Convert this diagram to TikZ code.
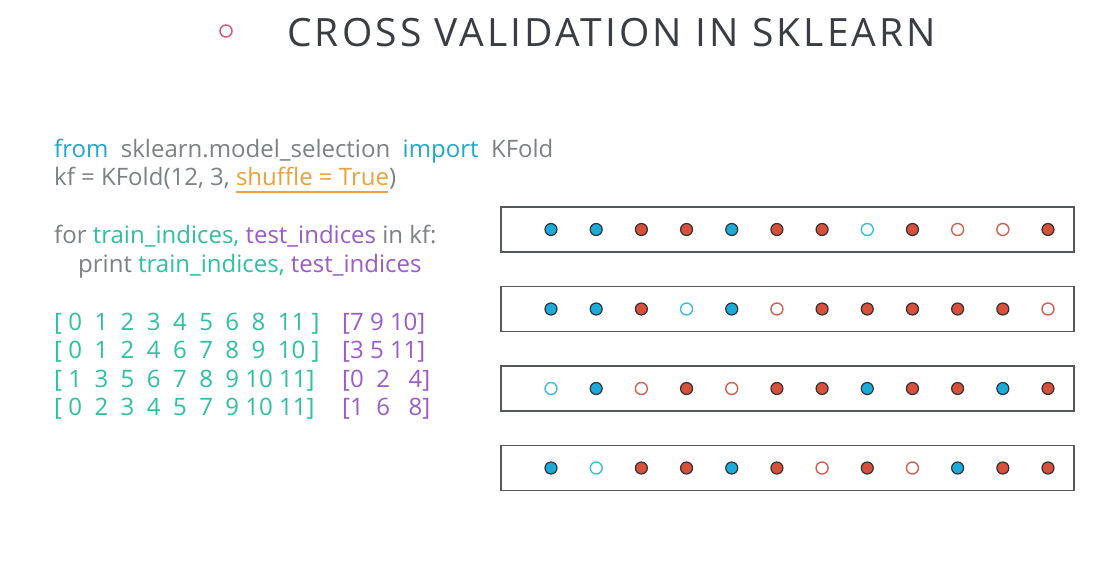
\documentclass[tikz,border=0pt]{standalone}
\usepackage{fontspec}
\setmainfont{Open Sans}
\definecolor{titlec}{HTML}{3A3D42}
\definecolor{pinkc}{HTML}{D9577A}
\definecolor{kwc}{HTML}{23A6CC}
\definecolor{greyc}{HTML}{7C8186}
\definecolor{orangec}{HTML}{E8A23E}
\definecolor{tealc}{HTML}{2EC0A0}
\definecolor{purplec}{HTML}{9B5CC9}
\definecolor{bluef}{HTML}{1CAAD9}
\definecolor{redf}{HTML}{D6503A}
\definecolor{edgec}{HTML}{2E3338}
\definecolor{blueo}{HTML}{3DBBE0}
\definecolor{redo}{HTML}{D0614F}
\definecolor{boxc}{HTML}{55585C}
\tikzset{
  codetxt/.style={anchor=base west,inner sep=0pt,font=\fontsize{24}{24}\selectfont,text=greyc},
  numtxt/.style={anchor=base west,inner sep=0pt,font=\fontsize{24}{24}\selectfont},
  foldbox/.style={draw=boxc,line width=1.3pt,minimum width=573pt,minimum height=45pt,inner sep=0pt},
  dotB/.style={circle,fill=bluef,draw=edgec,line width=1.2pt,minimum size=12pt,inner sep=0pt},
  dotR/.style={circle,fill=redf,draw=edgec,line width=1.2pt,minimum size=12pt,inner sep=0pt},
  dotb/.style={circle,draw=blueo,line width=1.4pt,minimum size=12pt,inner sep=0pt},
  dotr/.style={circle,draw=redo,line width=1.4pt,minimum size=12pt,inner sep=0pt}
}
\begin{document}
\begin{tikzpicture}[x=1pt,y=-1pt]
\useasboundingbox[fill=white] (0,0) rectangle (1115,562);
% title
\node[circle,draw=pinkc,line width=1.5pt,minimum size=12pt,inner sep=0pt] (bullet) at (226,31) {};
\node[anchor=base west,inner sep=0pt,text=titlec,font=\fontsize{39}{39}\selectfont\addfontfeatures{LetterSpace=8}] (title) at (287,46) {CROSS VALIDATION IN SKLEARN};
% code
\node[codetxt] (l1) at (54,157) {\textcolor{kwc}{from}\ \ sklearn.model\_selection\ \ \textcolor{kwc}{import}\ \ KFold};
\node[codetxt] (l2) at (54,185) {kf = KFold(12, 3, \textcolor{orangec}{shuffle = True})};
\node[codetxt] (l3) at (54,243) {for \textcolor{tealc}{train\_indices,} \textcolor{purplec}{test\_indices} in kf:};
\node[codetxt] (l4) at (78,272) {print \textcolor{tealc}{train\_indices,} \textcolor{purplec}{test\_indices}};
\coordinate (u1) at (236,192);
\coordinate (u2) at (388,192);
\draw[orangec,line width=2pt] (u1) -- (u2);
% arrays
\node[numtxt,text=tealc] (a1) at (54,330) {[ 0\ \ 1\ \ 2\ \ 3\ \ 4\ \ 5\ \ 6\ \ 8\ \ 11 ]};
\node[numtxt,text=tealc] (a2) at (54,358) {[ 0\ \ 1\ \ 2\ \ 4\ \ 6\ \ 7\ \ 8\ \ 9\ \ 10 ]};
\node[numtxt,text=tealc] (a3) at (54,387) {[ 1\ \ 3\ \ 5\ \ 6\ \ 7\ \ 8\ \ 9 10 11]};
\node[numtxt,text=tealc] (a4) at (54,415) {[ 0\ \ 2\ \ 3\ \ 4\ \ 5\ \ 7\ \ 9 10 11]};
\node[numtxt,text=purplec] (b1) at (342,330) {[7\ 9 10]};
\node[numtxt,text=purplec] (b2) at (342,358) {[3\ 5 11]};
\node[numtxt,text=purplec] (b3) at (342,387) {[0\ \ 2\ \ \ 4]};
\node[numtxt,text=purplec] (b4) at (342,415) {[1\ \ 6\ \ \ 8]};
% boxes and dots
\foreach \r/\y/\pat in {1/229.5/{B,B,R,R,B,R,R,b,R,r,r,R},
                        2/309/{B,B,R,b,B,r,R,R,R,R,R,r},
                        3/388.5/{b,B,r,R,r,R,R,B,R,R,B,R},
                        4/468/{B,b,R,R,B,R,r,R,r,B,R,R}} {
  \node[foldbox] (box\r) at (787.5,\y) {};
  \foreach \t [count=\i] in \pat {
    \node[dot\t] (d\r-\i) at ({551+(\i-1)*45.18},\y) {};
  }
}
\end{tikzpicture}
\end{document}
